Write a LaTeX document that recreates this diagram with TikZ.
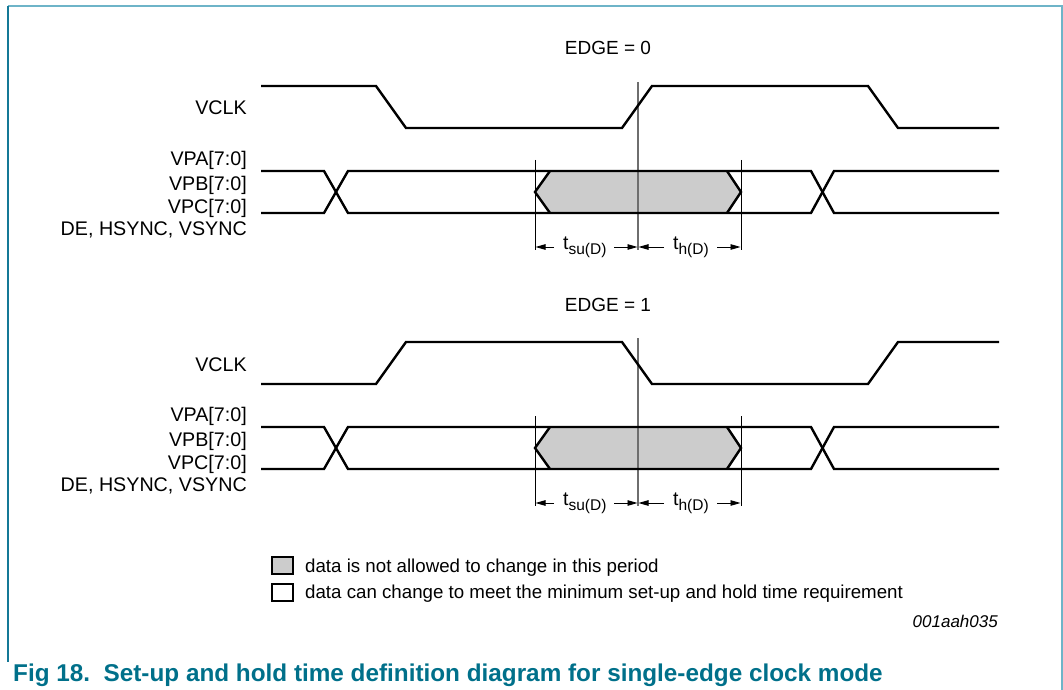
\documentclass[tikz,border=0pt]{standalone}
\usepackage{fontspec}
\setmainfont{Liberation Sans}
\usetikzlibrary{arrows.meta}
\definecolor{capteal}{RGB}{0,112,138}
\definecolor{frameleft}{RGB}{20,120,150}
\definecolor{frameother}{RGB}{110,180,200}
\definecolor{holdgray}{RGB}{204,204,204}
\definecolor{refgray}{RGB}{110,110,110}
\begin{document}
\begin{tikzpicture}[x=1pt,y=-1pt,
  wave/.style={line width=2.4pt, line join=miter, line cap=butt},
  tick/.style={line width=0.9pt},
  refline/.style={line width=1.2pt, draw=refgray},
  lbl/.style={font=\fontsize{19.7}{22}\selectfont, anchor=base east, inner sep=0pt},
  txt/.style={font=\fontsize{18.7}{22}\selectfont, anchor=base west, inner sep=0pt},
  dimtxt/.style={font=\fontsize{19.5}{22}\selectfont, anchor=base west, inner sep=0pt},
  ttl/.style={font=\fontsize{19}{22}\selectfont, anchor=base, inner sep=0pt},
  dimarrow/.style={line width=0.9pt, -{Triangle[length=10pt,width=5.5pt]}},
  legbox/.style={line width=1.8pt, draw=black},
]
\useasboundingbox (0,0) rectangle (1063,690);
% frame
\draw[line width=2pt, frameother] (8,6) -- (1062,6) -- (1062,690);
\draw[line width=2pt, frameleft] (8,6) -- (8,662);

\newcommand{\panel}[3]{%
\begin{scope}[shift={(0,#1)}]
  \node[ttl] (e#1) at (608,55) {EDGE = #2};
  \node[lbl] (vclk#1) at (247,115) {VCLK};
  \node[lbl] (vpa#1) at (247,165) {VPA[7:0]};
  \node[lbl] (vpb#1) at (247,190) {VPB[7:0]};
  \node[lbl] (vpc#1) at (247,213) {VPC[7:0]};
  \node[lbl] (de#1) at (247,235) {DE, HSYNC, VSYNC};
  % hold region fill
  \fill[holdgray] (550,171)--(535,192)--(550,213)--(727,213)--(741,192)--(727,171)--cycle;
  % reference line and ticks
  \coordinate (ct#1) at (638,82);
  \coordinate (cb#1) at (638,250);
  \draw[refline] (ct#1) -- (cb#1);
  \coordinate (lt#1) at (535,160);
  \coordinate (lb#1) at (535,250);
  \coordinate (rt#1) at (741,160);
  \coordinate (rb#1) at (741,250);
  \draw[tick] (lt#1) -- (lb#1);
  \draw[tick] (rt#1) -- (rb#1);
  % clock
  #3
  % data
  \draw[wave] (261,171)--(324,171)--(348,213)--(811,213)--(834,171)--(999,171);
  \draw[wave] (261,213)--(324,213)--(348,171)--(811,171)--(834,213)--(999,213);
  \draw[wave] (550,171)--(535,192)--(550,213);
  \draw[wave] (727,171)--(741,192)--(727,213);
  % dimension arrows
  \node[dimtxt] (tsu#1) at (563,249) {t\raisebox{-5pt}{\fontsize{15.5}{15}\selectfont su(D)}};
  \node[dimtxt] (th#1) at (673,249) {t\raisebox{-5pt}{\fontsize{15.5}{15}\selectfont h(D)}};
  \draw[dimarrow] (554,247) -- (535.5,247);
  \draw[dimarrow] (614,247) -- (637.5,247);
  \draw[dimarrow] (664,247) -- (638.5,247);
  \draw[dimarrow] (717,247) -- (740.5,247);
\end{scope}}

\panel{0}{0}{\draw[wave] (261,86)--(376,86)--(406,128)--(622,128)--(652,86)--(868,86)--(898,128)--(999,128);}
\panel{256}{1}{\draw[wave] (261,128)--(376,128)--(406,86)--(622,86)--(652,128)--(868,128)--(898,86)--(999,86);}

% legend
\draw[legbox, fill=holdgray] (272,557) rectangle (293,574);
\draw[legbox, fill=white] (272,584) rectangle (293,601);
\node[txt] (leg1) at (305,572) {data is not allowed to change in this period};
\node[txt] (leg2) at (305,598) {data can change to meet the minimum set-up and hold time requirement};
\node[font=\fontsize{17}{20}\selectfont\itshape, anchor=base east, inner sep=0pt] (code) at (998,627) {001aah035};
% caption
\node[font=\fontsize{24.3}{28}\selectfont\bfseries, text=capteal, anchor=base west, inner sep=0pt] (cap) at (13,681) {Fig 18.\ \ Set-up and hold time definition diagram for single-edge clock mode};
\end{tikzpicture}
\end{document}
